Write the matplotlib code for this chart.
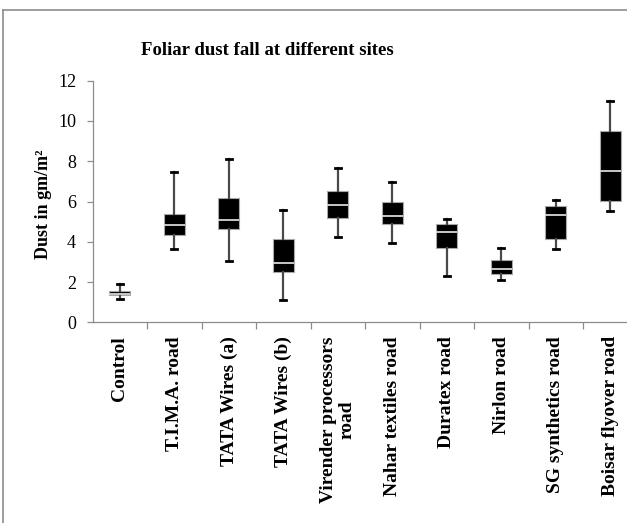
import matplotlib
matplotlib.use("Agg")
import matplotlib.pyplot as plt
from matplotlib.lines import Line2D

categories = ["Control", "T.I.M.A. road", "TATA Wires (a)", "TATA Wires (b)",
              "Virender processors\nroad", "Nahar textiles road", "Duratex road",
              "Nirlon road", "SG synthetics road", "Boisar flyover road"]
whisker_low = [1.14, 3.63, 3.05, 1.11, 4.25, 3.92, 2.28, 2.12, 3.66, 5.53]
q1 = [1.34, 4.32, 4.65, 2.48, 5.17, 4.87, 3.71, 2.38, 4.12, 6.03]
median = [1.43, 4.82, 5.07, 2.93, 5.83, 5.28, 4.50, 2.63, 5.31, 7.50]
q3 = [1.54, 5.36, 6.17, 4.12, 6.51, 5.96, 4.90, 3.08, 5.79, 9.52]
whisker_high = [1.89, 7.47, 8.11, 5.58, 7.68, 6.95, 5.12, 3.69, 6.08, 10.98]
yticks = [0, 2, 4, 6, 8, 10, 12]

W, H = 627, 523
fig = plt.figure(figsize=(W / 100, H / 100), dpi=100)
serif = ["Liberation Serif", "DejaVu Serif"]

# outer frame (top and left visible, rest cropped)
fig.add_artist(Line2D([3 / W, 3 / W], [0, 1 - 10 / H], transform=fig.transFigure,
                      color="#8c8c8c", lw=1.2))
fig.add_artist(Line2D([3 / W, 1], [1 - 10 / H, 1 - 10 / H], transform=fig.transFigure,
                      color="#8c8c8c", lw=1.2))

left, right = 92.7, 637.7
bottom, top = 322.3, 80.7
ax = fig.add_axes([left / W, 1 - bottom / H, (right - left) / W, (bottom - top) / H])

stats = []
for i, c in enumerate(categories):
    stats.append(dict(label=c, whislo=whisker_low[i], q1=q1[i], med=median[i],
                      q3=q3[i], whishi=whisker_high[i], fliers=[]))

positions = [i + 0.5 for i in range(len(categories))]
ax.bxp(stats, positions=positions, widths=0.385, patch_artist=True, showfliers=False,
       capwidths=0.11,
       boxprops=dict(facecolor="black", edgecolor="#a8a8a8", linewidth=0.8),
       medianprops=dict(color="#d8d8d8", linewidth=1.3),
       whiskerprops=dict(color="#4a4a4a", linewidth=1.6),
       capprops=dict(color="black", linewidth=2.0))

ax.set_xlim(0, len(categories))
ax.set_ylim(0, 12)
ax.set_yticks(yticks)
ax.set_yticklabels([str(v) for v in yticks], family=serif, fontsize=13)

ax.set_xticks(range(1, len(categories)))
ax.set_xticklabels([])
ax.tick_params(axis="x", direction="out", length=5, color="#8c8c8c", width=0.9)
ax.tick_params(axis="y", direction="out", length=4, color="#8c8c8c", width=0.9, pad=8)
ax.set_xticks(positions, minor=True)
ax.set_xticklabels(categories, minor=True, rotation=90, family=serif,
                   fontweight="bold", fontsize=14, va="top", ha="center",
                   multialignment="center", linespacing=1.15)
ax.tick_params(axis="x", which="minor", length=0, pad=10)

for s in ["top", "right"]:
    ax.spines[s].set_visible(False)
for s in ["left", "bottom"]:
    ax.spines[s].set_color("#8c8c8c")
    ax.spines[s].set_linewidth(0.9)

fig.text(44 / W, 1 - 204 / H, "Dust in gm/m²", rotation=90, family=serif,
         fontweight="bold", fontsize=13, ha="center", va="center")
fig.text(267 / W, 1 - 55 / H, "Foliar dust fall at different sites", family=serif,
         fontweight="bold", fontsize=13.5, ha="center", va="baseline")

fig.savefig("out.png", dpi=100)
